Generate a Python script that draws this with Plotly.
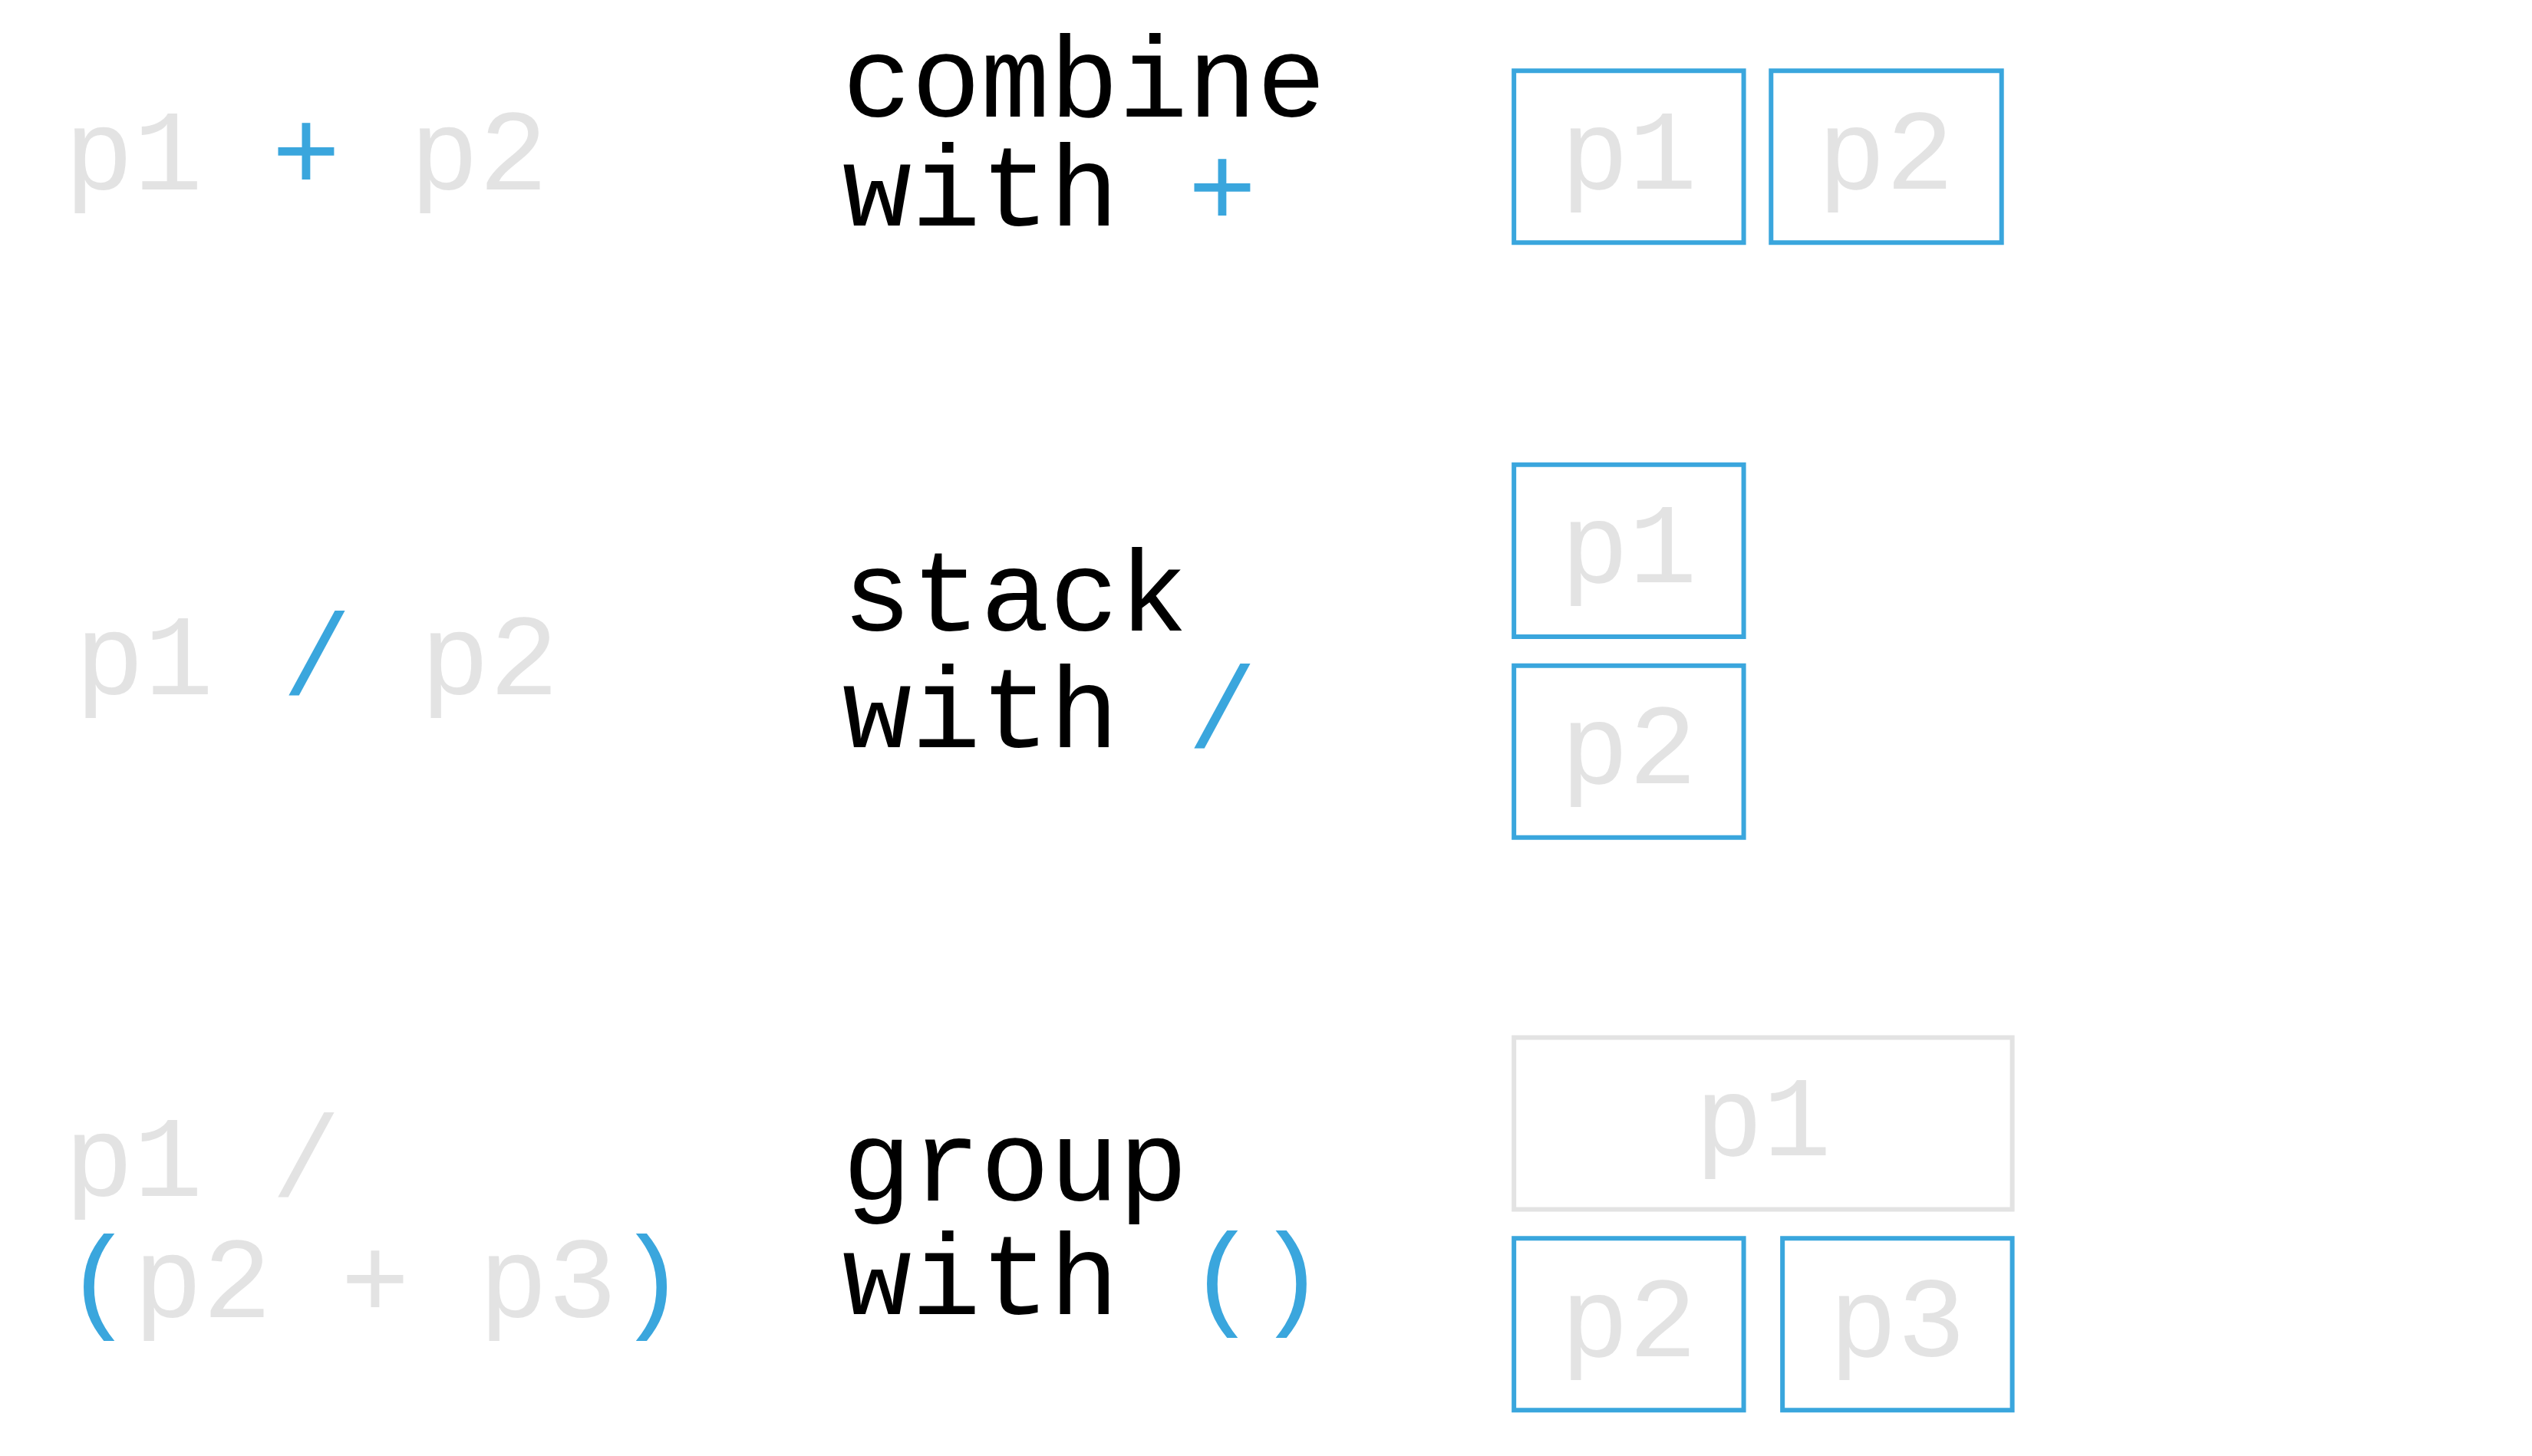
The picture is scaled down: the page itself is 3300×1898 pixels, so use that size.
import plotly.graph_objects as go

BLUE = "#3AA6DD"
GREY = "#E3E3E3"
S = 0.9915

# expressions (left column): list of lines, each list of (text, colour)
expr_rows = [
    [[("p1 ", GREY), ("+", BLUE), (" p2", GREY)]],
    [[("p1 ", GREY), ("/", BLUE), (" p2", GREY)]],
    [[("p1 /", GREY)], [("(", BLUE), ("p2 + p3", GREY), (")", BLUE)]],
]
expr_x = [74, 88, 74]
expr_y = [[199], [857], [1511, 1669]]

desc_lines = [["combine", "with "], ["stack", "with "], ["group", "with "]]
desc_ops = ["+", "/", "()"]
desc_y = [[104, 246], [774, 926], [1517, 1665]]
desc_x = 1088

# boxes: label, x0, x1, y0, y1, colour
box_labels = ["p1", "p2", "p1", "p2", "p1", "p2", "p3"]
box_x0 = [1982, 2320, 1982, 1982, 1982, 1982, 2335]
box_x1 = [2284, 2623, 2284, 2284, 2637, 2284, 2637]
box_y0 = [85, 85, 603, 867, 1356, 1620, 1620]
box_y1 = [311, 311, 829, 1093, 1582, 1846, 1846]
box_col = [BLUE, BLUE, BLUE, BLUE, GREY, BLUE, BLUE]

FONT = "Liberation Mono"
FS = 150

fig = go.Figure()
ann = []
shapes = []

def span(parts):
    return "".join(f"<span style='color:{c}'>{t}</span>" for t, c in parts)

for r, lines in enumerate(expr_rows):
    for li, parts in enumerate(lines):
        ann.append(dict(x=expr_x[r], y=expr_y[r][li], text=span(parts), showarrow=False,
                        xanchor="left", yanchor="middle", font=dict(family=FONT, size=FS)))

for r in range(3):
    ann.append(dict(x=desc_x, y=desc_y[r][0], text=desc_lines[r][0], showarrow=False,
                    xanchor="left", yanchor="middle", font=dict(family=FONT, size=FS, color="black")))
    ann.append(dict(x=desc_x, y=desc_y[r][1],
                    text=f"<span style='color:black'>{desc_lines[r][1]}</span><span style='color:{BLUE}'>{desc_ops[r]}</span>",
                    showarrow=False, xanchor="left", yanchor="middle", font=dict(family=FONT, size=FS)))

for i, lab in enumerate(box_labels):
    x0, x1, y0, y1 = box_x0[i] * S, box_x1[i] * S, box_y0[i] * S, box_y1[i] * S
    shapes.append(dict(type="rect", xref="x", yref="y", x0=x0, x1=x1,
                       y0=y0, y1=y1, line=dict(color=box_col[i], width=6)))
    ann.append(dict(x=(x0 + x1) / 2, y=(y0 + y1) / 2 + 2, text=lab,
                    showarrow=False, xanchor="center", yanchor="middle",
                    font=dict(family=FONT, size=FS - 2, color=GREY)))

fig.update_layout(
    width=3300, height=1898, margin=dict(l=0, r=0, t=0, b=0),
    paper_bgcolor="white", plot_bgcolor="white",
    xaxis=dict(range=[0, 3300], visible=False, fixedrange=True),
    yaxis=dict(range=[1898, 0], visible=False, fixedrange=True),
    annotations=ann, shapes=shapes, showlegend=False,
)
fig.write_html("out.html")
